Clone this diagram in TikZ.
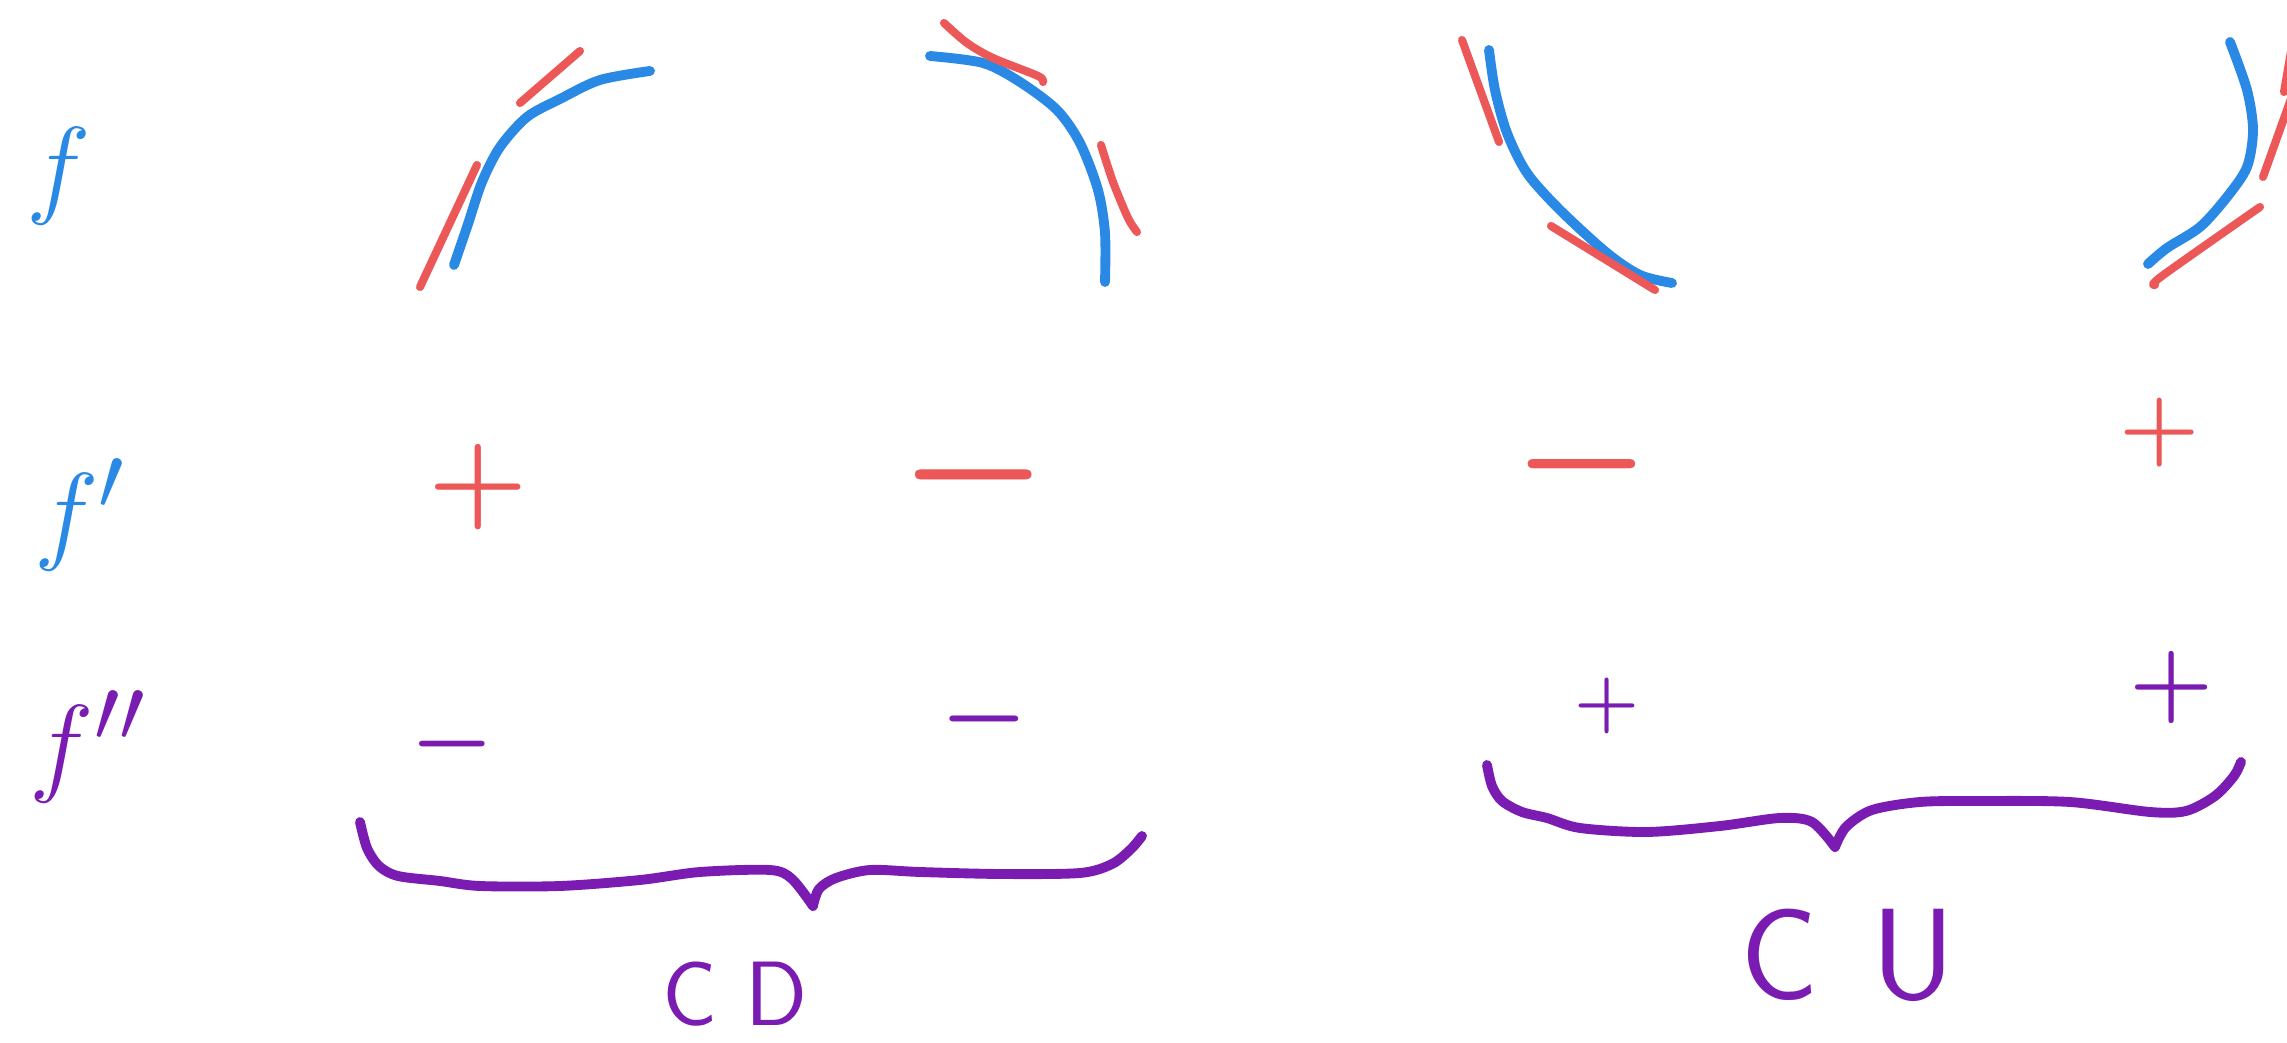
\documentclass[tikz,border=0pt]{standalone}
\usepackage{tikz}
\usetikzlibrary{calc}

\definecolor{fblue}{RGB}{42,137,228}
\definecolor{tanred}{RGB}{236,88,88}
\definecolor{ddpurple}{RGB}{122,28,178}

\begin{document}
\begin{tikzpicture}[
  x=0.01cm, y=-0.01cm,
  curve/.style={fblue, line width=2.8pt, line cap=round, line join=round},
  tangent/.style={tanred, line width=2.3pt, line cap=round, line join=round},
  brace/.style={ddpurple, line width=2.8pt, line cap=round, line join=round},
  rowlabel/.style={inner sep=0pt, font=\Huge, scale=1.25},
  sign/.style={inner sep=0pt, font=\boldmath\Huge, scale=#1},
  tag/.style={ddpurple, inner sep=0pt, font=\sffamily\fontsize{#1}{#1}\selectfont}
]
\useasboundingbox (0,0) rectangle (2287,1043);
\clip (0,0) rectangle (2287,1043);

% row labels
\node[rowlabel, fblue] (lblf) at (59,176) {$f$};
\node[rowlabel, fblue] (lblfp) at (80,515) {$f'$};
\node[rowlabel, ddpurple] (lblfpp) at (88,747) {$f''$};

% concave down, increasing
\draw[curve] plot[smooth] coordinates {(454,265) (468,224) (482,182) (500,147) (527,117) (560,99) (600,80) (650,71)};
\draw[tangent] (420,287) -- (477,165);
\draw[tangent] (520,103) -- (580,51);

% concave down, decreasing
\draw[curve] plot[smooth] coordinates {(930,56) (983,63) (1020,82) (1057,110) (1080,143) (1098,190) (1105,233) (1105,282)};
\draw[tangent] plot[smooth] coordinates {(944,23) (967,43) (993,58) (1038,76) (1043,82)};
\draw[tangent] plot[smooth] coordinates {(1101,145) (1113,182) (1128,218) (1137,232)};

% concave up, decreasing
\draw[curve] plot[smooth] coordinates {(1489,50) (1495,90) (1507,133) (1527,173) (1560,210) (1607,253) (1640,275) (1672,283)};
\draw[tangent] (1462,40) -- (1499,142);
\draw[tangent] (1551,226) -- (1655,290);

% concave up, increasing
\draw[curve] plot[smooth] coordinates {(2230,42) (2247,90) (2253,130) (2247,167) (2227,197) (2200,227) (2167,248) (2148,264)};
\draw[tangent] plot[smooth] coordinates {(2155,285) (2162,276) (2260,207)};
\draw[tangent] (2263,177) -- (2297,82);
\draw[tangent] (2284,92) -- (2293,40);

% signs of f'
\node[sign=1.3, tanred] (sp1) at (478,487) {$+$};
\node[sign=1.9, tanred] (sp2) at (974,475) {$-$};
\node[sign=1.75, tanred] (sp3) at (1582,464) {$-$};
\node[sign=1.05, tanred] (sp4) at (2160,433) {$+$};

% signs of f''
\node[sign=1.07, ddpurple] (spp1) at (452,744) {$-$};
\node[sign=1.12, ddpurple] (spp2) at (984,719) {$-$};
\node[sign=0.85, ddpurple] (spp3) at (1607,706) {$+$};
\node[sign=1.1, ddpurple] (spp4) at (2172,687) {$+$};

% braces
\draw[brace] plot[smooth] coordinates {(360,822) (367,848) (379,866) (398,876) (440,881) (480,886) (560,886) (640,880) (700,872) (770,870) (792,879) (813,906)};
\draw[brace] plot[smooth] coordinates {(813,906) (819,889) (836,878) (870,870) (920,872) (1000,874) (1080,873) (1112,864) (1131,849) (1142,836)};
\draw[brace] plot[smooth] coordinates {(1487,765) (1492,786) (1502,801) (1522,812) (1547,818) (1580,828) (1647,832) (1720,826) (1780,818) (1812,822) (1835,847)};
\draw[brace] plot[smooth] coordinates {(1835,847) (1846,827) (1872,810) (1920,802) (1980,801) (2070,802) (2150,812) (2186,811) (2215,796) (2234,776) (2241,762)};

\node[tag=26] (cd) at (735,994) {C D};
\node[tag=37] (cu) at (1848,955) {C\hspace{0.4em}U};
\end{tikzpicture}
\end{document}
